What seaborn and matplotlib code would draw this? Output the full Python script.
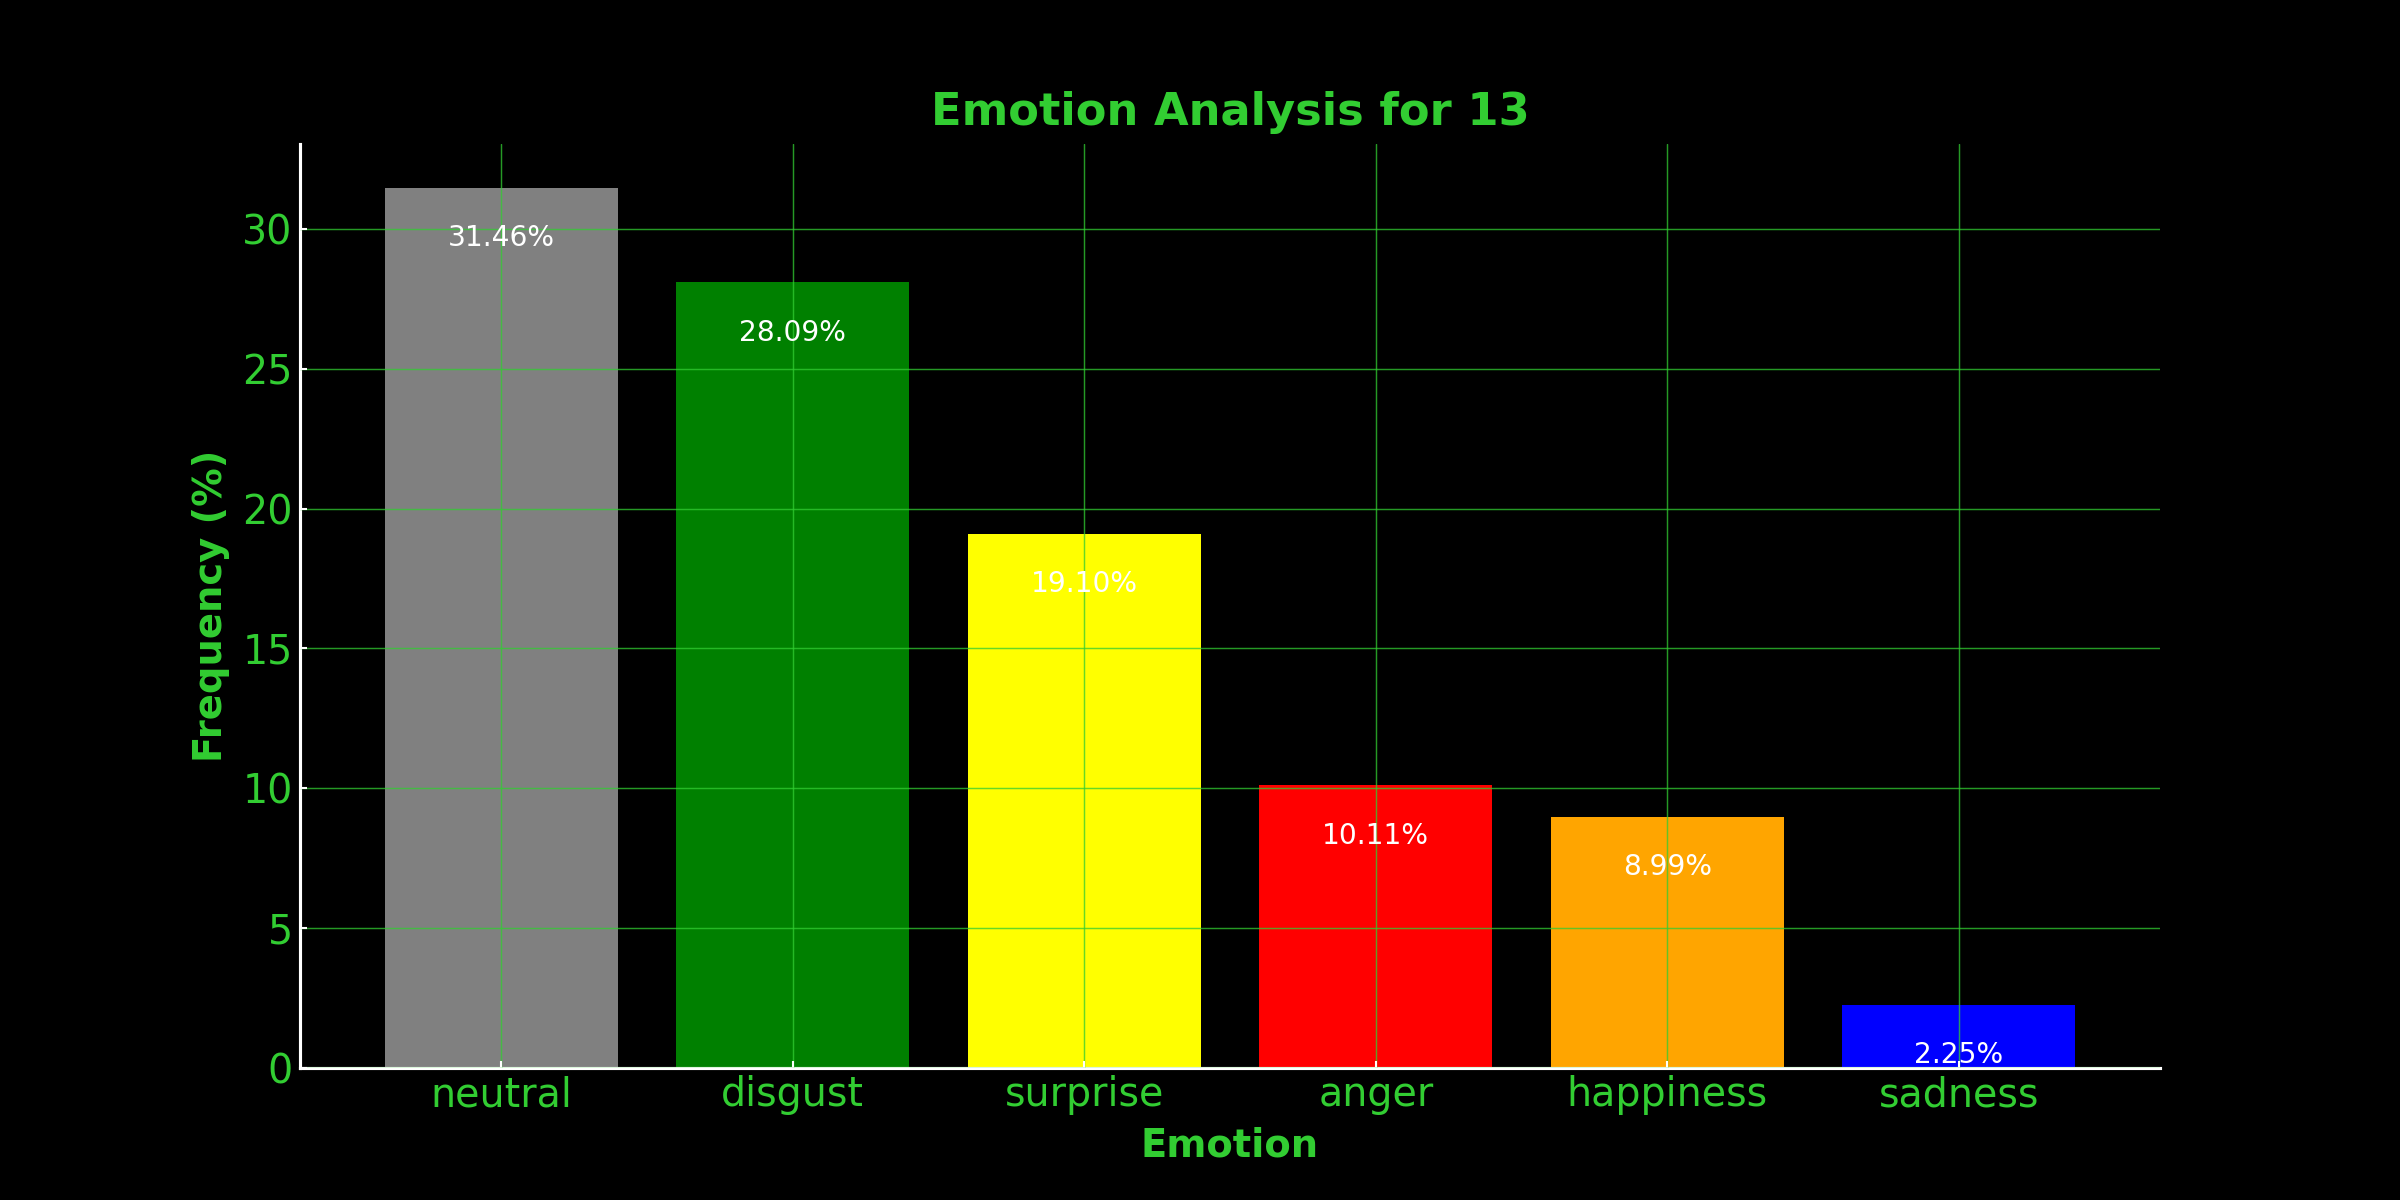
import matplotlib
matplotlib.use("Agg")
import matplotlib.pyplot as plt
import pandas as pd
import seaborn as sns

emotions = ["neutral", "disgust", "surprise", "anger", "happiness", "sadness"]
frequency = [31.46, 28.09, 19.10, 10.11, 8.99, 2.25]
bar_colors = ["gray", "green", "yellow", "red", "orange", "blue"]

TEXT_GREEN = "#32CD32"

sns.set_style("dark")
plt.rcParams["font.family"] = ["DejaVu Sans"]

df = pd.DataFrame({"Emotion": emotions, "Frequency": frequency})

fig, ax = plt.subplots(figsize=(16, 8), dpi=150)
fig.patch.set_facecolor("black")
ax.set_facecolor("black")

sns.barplot(
    data=df, x="Emotion", y="Frequency", hue="Emotion",
    palette=bar_colors, saturation=1, width=0.8, legend=False,
    linewidth=0, ax=ax,
)
ax.margins(x=0.05, y=0.05)

# percentage label just inside the top of each bar
for patch, val in zip(ax.patches, frequency):
    ax.text(
        patch.get_x() + patch.get_width() / 2, patch.get_height() - 1.3,
        f"{val:.2f}%", ha="center", va="top", color="white", fontsize=13.5,
    )

ax.set_title("Emotion Analysis for 13", color=TEXT_GREEN, fontsize=21.5,
             fontweight="bold", pad=9)
ax.set_xlabel("Emotion", color=TEXT_GREEN, fontsize=18.5, fontweight="bold", labelpad=5.5)
ax.set_ylabel("Frequency (%)", color=TEXT_GREEN, fontsize=18.5, fontweight="bold", labelpad=6)

ax.set_axisbelow(False)
ax.grid(True, color=TEXT_GREEN, alpha=0.75, linewidth=0.7)
ax.tick_params(axis="both", direction="in", colors="white", labelcolor=TEXT_GREEN,
               labelsize=19, length=3.5, width=1, bottom=True, left=True)

for side in ["top", "right"]:
    ax.spines[side].set_visible(False)
for side in ["left", "bottom"]:
    ax.spines[side].set_visible(True)
    ax.spines[side].set_color("white")
    ax.spines[side].set_linewidth(1.5)

fig.savefig("out.png", dpi=150, facecolor="black")
